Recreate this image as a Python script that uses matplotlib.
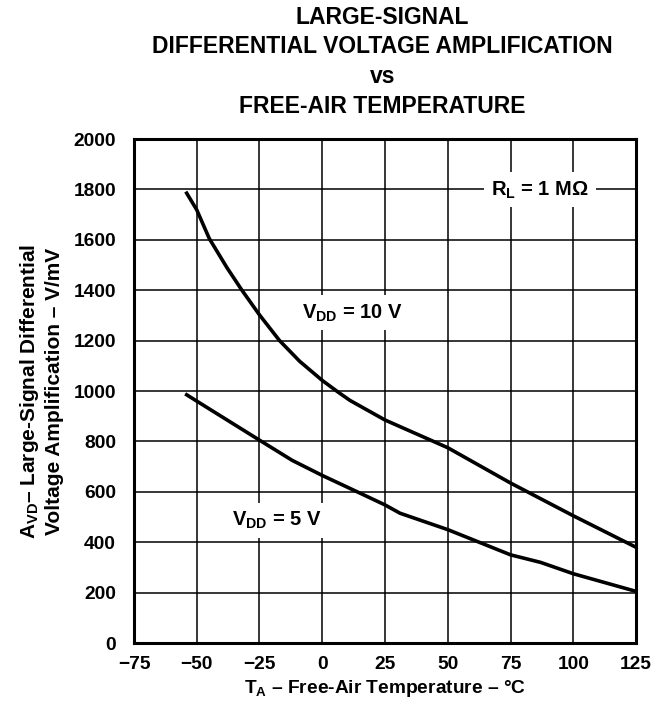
"""Large-signal differential voltage amplification vs free-air temperature."""

import matplotlib

matplotlib.use("Agg")
import matplotlib.pyplot as plt

# curve values
temp_10v = [-54, -50, -45, -38, -32, -25, -17, -9, 0, 6, 11, 25, 50, 75, 100, 125]
avd_10v = [1785, 1719, 1605, 1490, 1400, 1302, 1200, 1118, 1042, 998, 963, 885, 775, 635, 505, 380]
temp_5v = [-54, -50, -25, -12, 0, 15, 25, 31, 50, 75, 87, 100, 125]
avd_5v = [985, 960, 805, 725, 665, 595, 548, 515, 450, 350, 320, 275, 205]

x_ticks = [-75, -50, -25, 0, 25, 50, 75, 100, 125]
y_ticks = [0, 200, 400, 600, 800, 1000, 1200, 1400, 1600, 1800, 2000]

plt.rcParams["font.family"] = ["Liberation Sans", "DejaVu Sans"]
plt.rcParams["font.weight"] = "bold"
plt.rcParams["mathtext.fontset"] = "custom"
plt.rcParams["mathtext.rm"] = "Liberation Sans:bold"
plt.rcParams["mathtext.it"] = "Liberation Sans:bold"
plt.rcParams["mathtext.bf"] = "Liberation Sans:bold"

fig = plt.figure(figsize=(6.61, 7.06), dpi=100)
ax = fig.add_axes([0.2027, 0.0892, 0.7595, 0.7139])

ax.plot(temp_10v, avd_10v, color="black", linewidth=2.6, zorder=3)
ax.plot(temp_5v, avd_5v, color="black", linewidth=2.6, zorder=3)

ax.set_xlim(-75, 125)
ax.set_ylim(0, 2000)
ax.set_xticks(x_ticks)
ax.set_yticks(y_ticks)
ax.tick_params(axis="x", length=0, labelsize=13.8, pad=9)
ax.tick_params(axis="y", length=0, labelsize=13.8, pad=13)
for label in ax.get_xticklabels() + ax.get_yticklabels():
    label.set_fontweight("bold")
ax.grid(True, color="black", linewidth=1.1)
ax.set_axisbelow(True)
for spine in ax.spines.values():
    spine.set_linewidth(2.2)

box = dict(facecolor="white", edgecolor="none", pad=5)
ax.text(86.7, 1798, r"$\mathrm{R_L}$ = 1 M$\Omega$", fontsize=14.5, ha="center", va="center", bbox=box, zorder=2)
ax.text(12, 1310, r"$\mathrm{V_{DD}}$ = 10 V", fontsize=14.5, ha="center", va="center", bbox=box, zorder=2)
ax.text(-18, 488, r"$\mathrm{V_{DD}}$ = 5 V", fontsize=14.5, ha="center", va="center", bbox=box, zorder=2)

ax.set_xlabel(r"$\mathrm{T_A}$ – Free-Air Temperature – °C", fontsize=13.8, fontweight="bold", labelpad=4)
ax.set_ylabel("$\\mathrm{A_{VD}}$– Large-Signal Differential\nVoltage Amplification – V/mV",
              fontsize=15, fontweight="bold", labelpad=7, linespacing=1.25)

fig.text(0.579, 0.992, "LARGE-SIGNAL\nDIFFERENTIAL VOLTAGE AMPLIFICATION\nvs\nFREE-AIR TEMPERATURE",
         ha="center", va="top", fontsize=16.5, fontweight="bold", linespacing=1.38)

fig.savefig("out.png", dpi=100, facecolor="white")
